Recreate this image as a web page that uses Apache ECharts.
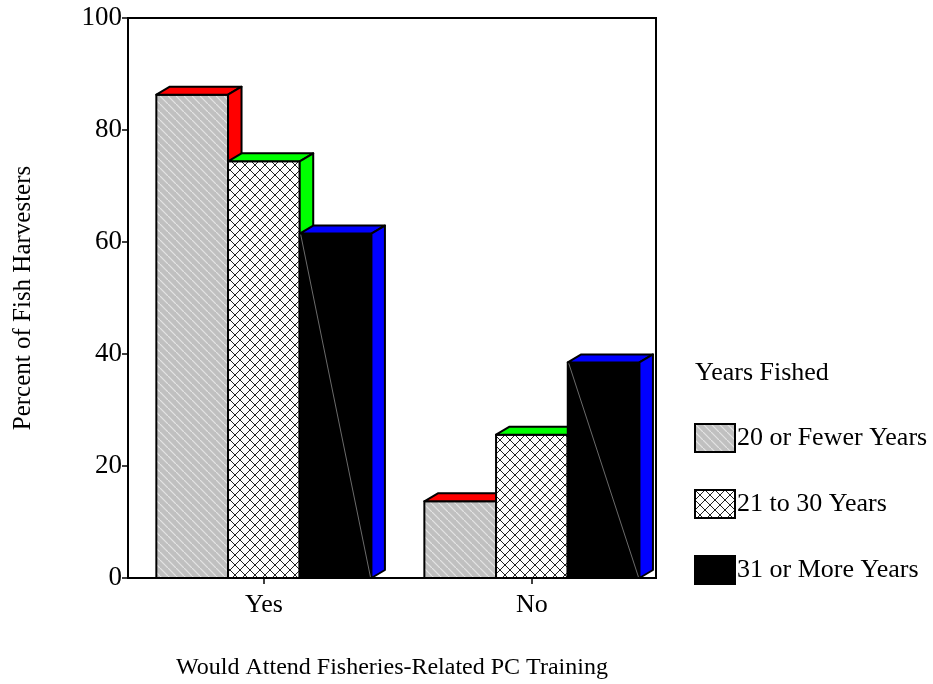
<!DOCTYPE html>
<html>
<head>
<meta charset="utf-8">
<script src="https://cdn.jsdelivr.net/npm/echarts@6/dist/echarts.min.js"></script>
<style>
  html, body { margin: 0; padding: 0; background: #fff; }
  #chart { width: 933px; height: 684px; }
</style>
</head>
<body>
<div id="chart"></div>
<script>
var categories = ['Yes', 'No'];
var seriesNames = ['20 or Fewer Years', '21 to 30 Years', '31 or More Years'];
var fewerYears = [86.3, 13.7];
var midYears = [74.4, 25.6];
var moreYears = [61.5, 38.5];
var yTicks = [0, 20, 40, 60, 80, 100];

(function () {
  var font = 'Liberation Serif';
  var BW = 0.2675;      // bar width in category units
  var DX = 13.5, DY = 8; // 3d depth in px

  function hatchPattern() {
    var c = document.createElement('canvas');
    c.width = 8; c.height = 8;
    var g = c.getContext('2d');
    g.fillStyle = '#c0c0c0';
    g.fillRect(0, 0, 8, 8);
    g.strokeStyle = '#e4e4e4';
    g.lineWidth = 1.2;
    g.beginPath();
    g.moveTo(-1, -1); g.lineTo(9, 9);
    g.stroke();
    return { image: c, repeat: 'repeat' };
  }
  function crossPattern() {
    var c = document.createElement('canvas');
    c.width = 10; c.height = 10;
    var g = c.getContext('2d');
    g.fillStyle = '#fff';
    g.fillRect(0, 0, 10, 10);
    g.strokeStyle = '#222';
    g.lineWidth = 1;
    g.beginPath();
    g.moveTo(0, 0); g.lineTo(10, 10);
    g.moveTo(10, 0); g.lineTo(0, 10);
    g.stroke();
    return { image: c, repeat: 'repeat' };
  }

  var fills = [hatchPattern(), crossPattern(), '#000'];
  var sides = ['#ff0000', '#00ff00', '#0000ff'];
  var values = [fewerYears, midYears, moreYears];

  function render3d(idx) {
    return function (params, api) {
      var c = api.value(0), v = api.value(1);
      var off = (idx - 1) * BW;
      var tl = api.coord([c + off - BW / 2, v]);
      var br = api.coord([c + off + BW / 2, 0]);
      var x0 = tl[0], y0 = tl[1], x1 = br[0], y1 = br[1];
      var line = { stroke: '#000', lineWidth: 2, lineJoin: 'round' };
      var kids = [
        { type: 'rect', shape: { x: x0, y: y0, width: x1 - x0, height: y1 - y0 },
          style: Object.assign({ fill: fills[idx] }, line) },
        { type: 'polygon', shape: { points: [[x0, y0], [x0 + DX, y0 - DY], [x1 + DX, y0 - DY], [x1, y0]] },
          style: Object.assign({ fill: sides[idx] }, line) },
        { type: 'polygon', shape: { points: [[x1, y0], [x1 + DX, y0 - DY], [x1 + DX, y1 - DY], [x1, y1]] },
          style: Object.assign({ fill: sides[idx] }, line) }
      ];
      if (idx === 2) {
        kids.push({ type: 'line', shape: { x1: x0 + 1, y1: y0 + 1, x2: x1 - 1, y2: y1 - 1 },
          style: { stroke: '#6a6a6a', lineWidth: 1 } });
      }
      return { type: 'group', children: kids };
    };
  }

  var series = seriesNames.map(function (name, i) {
    return {
      type: 'custom',
      name: name,
      renderItem: render3d(i),
      itemStyle: { color: fills[i], borderColor: '#000', borderWidth: 2 },
      data: categories.map(function (cat, j) { return [j, values[i][j]]; })
    };
  });

  var chart = echarts.init(document.getElementById('chart'));
  chart.setOption({
    animation: false,
    backgroundColor: '#fff',
    textStyle: { fontFamily: font, color: '#000' },
    title: {
      text: 'Years Fished',
      left: 690, top: 355,
      textStyle: { fontFamily: font, fontSize: 26, fontWeight: 'normal', color: '#000' }
    },
    legend: {
      data: seriesNames,
      orient: 'vertical',
      left: 694, top: 423,
      padding: 0,
      itemWidth: 40, itemHeight: 28, itemGap: 36,
      icon: 'rect',
      textStyle: { fontFamily: font, fontSize: 26, color: '#000', padding: [0, 0, 0, -3] }
    },
    grid: {
      left: 128, right: 277, top: 18, bottom: 106,
      containLabel: false,
      outerBoundsMode: 'none',
      show: true, borderColor: '#000', borderWidth: 2
    },
    xAxis: {
      type: 'value',
      min: -0.507, max: 1.463,
      name: 'Would Attend Fisheries-Related PC Training',
      nameLocation: 'middle',
      nameGap: 78,
      nameTextStyle: { fontFamily: font, fontSize: 24, color: '#000' },
      splitLine: { show: false },
      axisLine: { onZero: false, lineStyle: { color: '#000', width: 2 } },
      axisTick: { customValues: [0, 1], length: 6, lineStyle: { color: '#000', width: 1.5 } },
      axisLabel: {
        customValues: [0, 1],
        margin: 14,
        fontFamily: font, fontSize: 26, color: '#000',
        formatter: function (v) { return categories[Math.round(v)]; }
      }
    },
    yAxis: {
      type: 'value',
      min: yTicks[0], max: yTicks[yTicks.length - 1], interval: 20,
      name: 'Percent of Fish Harvesters',
      nameLocation: 'middle',
      nameGap: 92,
      nameRotate: 90,
      nameTextStyle: { fontFamily: font, fontSize: 25, color: '#000' },
      splitLine: { show: false },
      axisLine: { show: true, onZero: false, lineStyle: { color: '#000', width: 2 } },
      axisTick: { show: true, length: 6, lineStyle: { color: '#000', width: 1.5 } },
      axisLabel: { margin: 6, fontFamily: font, fontSize: 27, color: '#000' }
    },
    series: series
  });
  window.addEventListener('resize', function () { chart.resize(); });
})();
</script>
</body>
</html>
